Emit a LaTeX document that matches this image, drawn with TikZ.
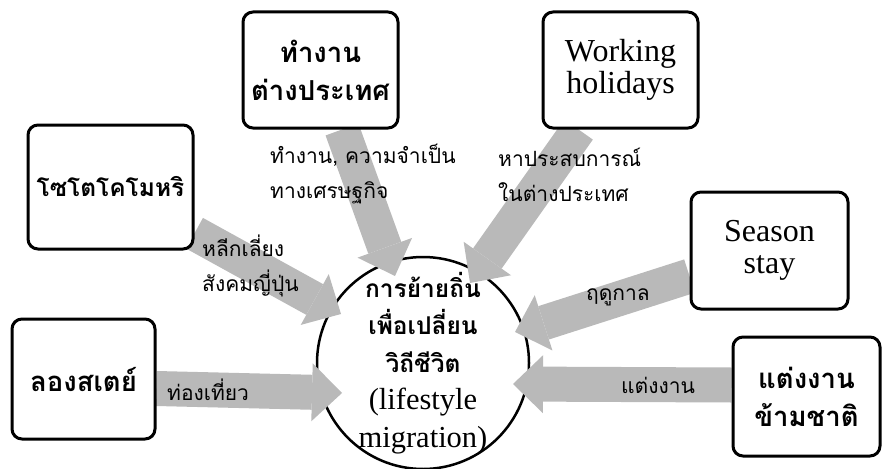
\documentclass[tikz,border=0pt]{standalone}
\usepackage{fontspec}
\setmainfont{Liberation Serif}
\newfontfamily\thaifont[Script=Thai]{Loma}
\usetikzlibrary{arrows.meta}
\pgfdeclarelayer{front}
\pgfsetlayers{main,front}
\newcommand{\thtext}[1]{{\thaifont\bfseries\fontsize{24.5}{37.5}\selectfont #1}}
\tikzset{
  box/.style={draw, line width=3pt, rounded corners=10pt, fill=white, align=center, inner sep=0pt},
  thbox/.style={font=\thaifont\bfseries\fontsize{27.5}{38}\selectfont},
  enbox/.style={font=\fontsize{32}{32}\selectfont},
  hub/.style={circle, draw, line width=2.5pt, minimum size=212pt, inner sep=0pt},
  flow/.style={draw=gray!55, line width=35pt, -{Triangle[length=30pt, width=58pt, line width=0pt]}},
  lbl/.style={font=\thaifont\fontsize{21}{35}\selectfont, align=left, inner sep=0pt},
}

\begin{document}
\begin{tikzpicture}[x=1pt, y=-1pt]
  \useasboundingbox (0,0) rectangle (882,468);

  % Centre circle
  \node[hub] (mig) at (423,363) {};

  \begin{pgfonlayer}{front}
    % Boxes
    \node[box, thbox, minimum width=155pt, minimum height=116pt] (abroad) at (320.5,70) {ทำงาน\\ต่างประเทศ};
    \node[box, enbox, minimum width=155pt, minimum height=116pt] (wh) at (620.5,70) {Working\\holidays};
    \node[box, thbox, font=\thaifont\bfseries\fontsize{24.5}{38}\selectfont, minimum width=165pt, minimum height=124pt] (soto) at (110.5,187) {โซโตโคโมหริ};
    \node[box, thbox, minimum width=143pt, minimum height=120pt] (lstay) at (83.5,379) {ลองสเตย์};
    \node[box, enbox, minimum width=157pt, minimum height=117pt] (season) at (769.5,250.5) {Season\\stay};
    \node[box, thbox, minimum width=147pt, minimum height=119pt] (marry) at (806.5,396.5) {แต่งงาน\\ข้ามชาติ};

    % Text of the circle
    \node[align=center, inner sep=0pt, font=\fontsize{30.5}{37.5}\selectfont] (migtext) at (mig.center)
      {\thtext{การย้ายถิ่น}\\\thtext{เพื่อเปลี่ยน}\\\thtext{วิถีชีวิต}\\(lifestyle\\migration)};

    % Arrow labels
    \node[lbl, anchor=west] (lwork) at (270,174.5) {ทำงาน, ความจำเป็น\\ทางเศรษฐกิจ};
    \node[lbl, anchor=west] (lwh) at (498,174.5) {หาประสบการณ์\\ในต่างประเทศ};
    \node[lbl, anchor=west] (lsoto) at (202,266) {หลีกเลี่ยง\\สังคมญี่ปุ่น};
    \node[lbl, anchor=west] (ltour) at (167,390) {ท่องเที่ยว};
    \node[lbl] (lseason) at (618,297) {ฤดูกาล};
    \node[lbl] (lmarry) at (658,385) {แต่งงาน};
  \end{pgfonlayer}

  % Arrow tips inside the circle
  \coordinate (t1) at (395,276);
  \coordinate (t2) at (470,283);
  \coordinate (t3) at (341,314);
  \coordinate (t4) at (342,393);
  \coordinate (t5) at (515,332);
  \coordinate (t6) at (513,384);

  % Block arrows
  \draw[flow] (abroad) -- (t1);
  \draw[flow] (wh) -- (t2);
  \draw[flow] (soto) -- (t3);
  \draw[flow] ([yshift=-9.5pt]lstay.east) -- (t4);
  \draw[flow] (season) -- (t5);
  \draw[flow] ([yshift=11.5pt]marry.west) -- (t6);
\end{tikzpicture}
\end{document}
